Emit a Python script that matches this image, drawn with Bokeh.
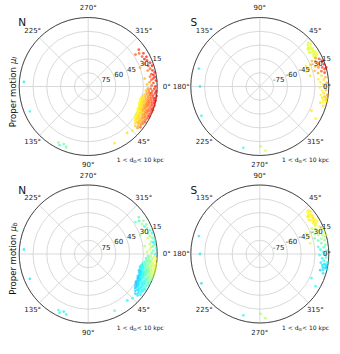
import math
from bokeh.plotting import figure
from bokeh.models import Range1d, ColumnDataSource, LinearColorMapper
from bokeh.transform import transform
from bokeh.embed import file_html
from bokeh.resources import INLINE
from bokeh.core.properties import value

# ---------------- data (l in deg, b in deg, colour values 0..1) ----------------
# Northern sample: thin arm above 0 deg
N_arm_l = [-36, -34, -33, -31, -29, -27, -26, -24, -22, -21, -20, -19, -18, -16, -15, -14,
           -12, -11, -10, -9, -8, -8, -7, -6, -5, -4, -3, -2, -1, 0]
N_arm_b = [22, 28, 24, 20, 23, 19, 22, 20, 24, 18, 30, 21, 17, 20, 23, 18,
           16, 20, 18, 22, 17, 28, 19, 21, 16, 23, 19, 26, 21, 17]
N_arm_mul = [.84, .80, .80, .86, .82, .86, .88, .83, .78, .87, .72, .84, .88, .80, .76, .85,
             .87, .82, .86, .78, .86, .70, .84, .80, .88, .74, .83, .70, .80, .86]
N_arm_mub = [.46, .45, .40, .50, .52, .48, .38, .50, .55, .44, .50, .47, .40, .53, .58, .45,
             .40, .50, .36, .55, .42, .55, .45, .50, .40, .60, .45, .55, .48, .40]

# Northern sample: dense clump between 0 and 45 deg
N_blob_l = [2, 2, 2,
            4, 4, 4, 4,
            6, 6, 6, 6,
            8, 8, 8, 8, 8,
            10, 10, 10, 10, 10, 10,
            12, 12, 12, 12, 12, 12, 12,
            14, 14, 14, 14, 14, 14, 14,
            16, 16, 16, 16, 16, 16, 16,
            18, 18, 18, 18, 18, 18, 18, 18,
            20, 20, 20, 20, 20, 20, 20, 20,
            22, 22, 22, 22, 22, 22, 22,
            24, 24, 24, 24, 24, 24, 24,
            26, 26, 26, 26, 26, 26, 26,
            28, 28, 28, 28, 28, 28,
            30, 30, 30, 30, 30, 30,
            32, 32, 32, 32, 32, 32,
            34, 34, 34, 34, 34,
            36, 36, 36, 36,
            38, 38, 38,
            40, 40]
N_blob_b = [18, 22, 25,
            16, 20, 24, 27,
            17, 21, 23, 26,
            15, 19, 22, 25, 28,
            16, 18, 21, 24, 27, 30,
            15, 17, 20, 23, 26, 29, 31,
            16, 19, 22, 24, 27, 29, 32,
            15, 18, 21, 23, 25, 28, 31,
            16, 19, 22, 24, 26, 28, 30, 32,
            15, 17, 20, 23, 25, 27, 29, 31,
            16, 19, 21, 24, 26, 28, 30,
            17, 20, 22, 25, 27, 29, 31,
            16, 18, 21, 23, 26, 28, 30,
            17, 20, 22, 24, 27, 29,
            18, 21, 23, 26, 28, 30,
            17, 19, 22, 25, 27, 29,
            18, 20, 23, 26, 28,
            19, 22, 24, 27,
            18, 21, 25,
            20, 23]
N_blob_mul = [.86, .80, .74,
              .88, .82, .76, .70,
              .86, .84, .78, .72,
              .88, .85, .80, .74, .68,
              .87, .84, .82, .76, .70, .66,
              .86, .85, .80, .78, .72, .66, .64,
              .88, .82, .80, .74, .70, .65, .63,
              .85, .84, .78, .76, .72, .68, .64,
              .86, .80, .79, .75, .70, .67, .64, .62,
              .84, .86, .78, .76, .73, .68, .65, .63,
              .85, .80, .77, .74, .70, .66, .64,
              .84, .78, .76, .72, .68, .65, .63,
              .86, .80, .75, .73, .68, .64, .62,
              .82, .78, .72, .70, .66, .64,
              .80, .74, .70, .67, .65, .63,
              .82, .76, .72, .68, .65, .63,
              .78, .74, .70, .66, .64,
              .76, .72, .68, .65,
              .80, .70, .66,
              .74, .68]
N_blob_mub = [.58, .52, .46,
              .60, .55, .48, .44,
              .62, .56, .50, .45,
              .60, .58, .52, .47, .42,
              .62, .57, .55, .49, .44, .40,
              .58, .60, .54, .50, .46, .40, .37,
              .60, .55, .52, .47, .42, .38, .35,
              .56, .58, .50, .48, .45, .40, .36,
              .55, .52, .50, .46, .42, .38, .35, .33,
              .52, .54, .48, .46, .43, .39, .36, .34,
              .50, .48, .46, .42, .40, .36, .34,
              .48, .46, .44, .40, .38, .35, .33,
              .46, .44, .42, .40, .37, .34, .32,
              .44, .42, .40, .38, .35, .33,
              .42, .40, .38, .36, .34, .32,
              .40, .38, .37, .35, .33, .31,
              .38, .37, .35, .34, .32,
              .37, .35, .34, .32,
              .36, .34, .33,
              .35, .33]

# Northern sample: isolated stars
N_out_l = [-176, 157, 110, 113, 116, 118, 65, 45, 50]
N_out_b = [20, 21, 20, 22, 19, 21, 22, 22, 24]
N_out_mul = [.35, .38, .45, .48, .42, .50, .65, .64, .66]
N_out_mub = [.36, .34, .40, .36, .38, .42, .45, .40, .38]

# Southern sample
S_top_l = [42, 41, 40, 39, 38, 38, 37, 36, 36, 35, 34, 34, 33, 32, 31, 30, 30, 29, 28]
S_top_b = [-19, -21, -18, -22, -20, -24, -23, -19, -21, -25, -24, -20, -22, -19, -21, -18, -23, -20, -22]
S_top_mul = [.58, .60, .59, .58, .61, .60, .58, .60, .59, .62, .58, .60, .61, .59, .58, .62, .60, .59, .61]
S_top_mub = [.64, .62, .65, .63, .64, .66, .62, .65, .63, .64, .62, .66, .64, .63, .65, .62, .64, .63, .60]

S_mid_l = [27, 26, 25, 24, 23, 22, 21, 20, 19, 18, 17, 16, 15, 14, 13, 12, 24, 18, 12, 20, 22, 16]
S_mid_b = [-22, -27, -19, -24, -30, -17, -21, -26, -16, -23, -19, -28, -17, -21, -25, -18, -35, -37, -34, -33, -16, -15]
S_mid_mul = [.74, .70, .80, .76, .68, .86, .78, .72, .88, .76, .82, .70, .86, .80, .72, .84, .64, .64, .66, .65, .86, .88]
S_mid_mub = [.60, .56, .62, .55, .52, .60, .56, .50, .58, .52, .55, .48, .56, .50, .46, .52, .62, .60, .58, .60, .58, .56]

S_low_l = [10, 8, 7, 6, 4, 3, 2, 0, -1, -3, -4, -6, -7, -8, -9, -10, -11, -12, -13, -14, -15, -17, -10, -12, -9]
S_low_b = [-22, -18, -26, -20, -24, -17, -21, -19, -25, -18, -22, -20, -16, -23, -18, -21, -17, -20, -15, -19, -22, -18, -16, -17, -19]
S_low_mul = [.66, .70, .64, .66, .64, .72, .65, .68, .63, .70, .64, .66, .74, .63, .67, .65, .68, .64, .70, .63, .65, .66, .67, .64, .66]
S_low_mub = [.48, .46, .42, .44, .40, .46, .42, .40, .38, .42, .37, .38, .40, .35, .36, .34, .36, .33, .38, .34, .33, .35, .34, .33, .36]

S_out_l = [163.6, 180, 206.7, 270.7, 275, 255, -30, -25]
S_out_b = [-21, -25, -19, -25, -20, -21, -20, -28]
S_out_mul = [.36, .35, .38, .55, .58, .40, .64, .66]
S_out_mub = [.36, .35, .34, .52, .55, .38, .40, .38]

# ticks and labels
RING_B = [75, 60, 45, 30, 15]
N_RING_LABELS = ["75", "60", "45", "30", "15"]
S_RING_LABELS = ["-75", "-60", "-45", "-30", "-15"]
SPOKES = [0, 45, 90, 135, 180, 225, 270, 315]
N_ANGLES = [0, 45, 90, 135, 225, 270, 315]
N_ANGLE_LABELS = ["0°", "45°", "90°", "135°", "225°", "270°", "315°"]
S_ANGLES = [0, 45, 90, 135, 180, 225, 270, 315]
S_ANGLE_LABELS = ["0°", "45°", "90°", "135°", "180°", "225°", "270°", "315°"]
HEMI_LABELS = ["N", "S"]
ROW_LABELS = ["l", "b"]
DIST_MAIN = "1 < d"
DIST_SUB = "⊙"
DIST_TAIL = " < 10 kpc"

# ---------------- layout ----------------
W, H = 332, 346
CX = [87.7, 259.3]
CY = [86.0, 253.5]
R = 69.0
K = R / 75.0
FONT = value("DejaVu Sans")
GRID = "#cfcfcf"
TICK_PX = 7.0
ADV = {"-": 0.361, "°": 0.5}


def est_width(s, px):
    return sum(ADV.get(ch, 0.636) for ch in s) * px


def jet(x):
    r = min(1.0, max(0.0, 1.5 - abs(4 * x - 3)))
    g = min(1.0, max(0.0, 1.5 - abs(4 * x - 2)))
    b = min(1.0, max(0.0, 1.5 - abs(4 * x - 1)))
    return "#%02x%02x%02x" % (int(r * 255), int(g * 255), int(b * 255))


PALETTE = [jet(i / 255.0) for i in range(256)]
mapper = LinearColorMapper(palette=PALETTE, low=0.0, high=1.0)

p = figure(width=W, height=H, x_range=Range1d(0, W), y_range=Range1d(H, 0),
           x_axis_type=None, y_axis_type=None, toolbar_location=None, tools="",
           output_backend="svg", min_border=0, outline_line_color=None,
           background_fill_color="white", border_fill_color="white")
p.grid.visible = False


def proj(ls, bs, cx, cy, sgn):
    xs, ys = [], []
    for l, b in zip(ls, bs):
        r = (90.0 - abs(b)) * K
        a = math.radians(l)
        xs.append(cx + r * math.cos(a))
        ys.append(cy + sgn * r * math.sin(a))
    return xs, ys


def polar_pt(cx, cy, sgn, ang, r):
    a = math.radians(ang)
    return cx + r * math.cos(a), cy + sgn * r * math.sin(a)


for row in range(2):
    for col in range(2):
        cx, cy = CX[col], CY[row]
        sgn = 1 if col == 0 else -1
        # rings
        p.circle(x=[cx] * 5, y=[cy] * 5, radius=[(90 - bb) * K for bb in RING_B],
                 fill_color=None, line_color=GRID, line_width=0.8)
        # spokes
        x1, y1 = [], []
        for a in SPOKES:
            xx, yy = polar_pt(cx, cy, sgn, a, R)
            x1.append(xx)
            y1.append(yy)
        p.segment(x0=[cx] * len(SPOKES), y0=[cy] * len(SPOKES), x1=x1, y1=y1,
                  line_color=GRID, line_width=0.8)
        # outer circle
        p.circle(x=[cx], y=[cy], radius=[R], fill_color=None, line_color="#3a3a3a", line_width=0.9)

        # data
        if col == 0:
            groups = [(N_arm_l, N_arm_b, N_arm_mul, N_arm_mub),
                      (N_blob_l, N_blob_b, N_blob_mul, N_blob_mub),
                      (N_out_l, N_out_b, N_out_mul, N_out_mub)]
        else:
            groups = [(S_top_l, S_top_b, S_top_mul, S_top_mub),
                      (S_mid_l, S_mid_b, S_mid_mul, S_mid_mub),
                      (S_low_l, S_low_b, S_low_mul, S_low_mub),
                      (S_out_l, S_out_b, S_out_mul, S_out_mub)]
        for gl, gb, gmul, gmub in groups:
            xs, ys = proj(gl, gb, cx, cy, sgn)
            vals = gmul if row == 0 else gmub
            src = ColumnDataSource(dict(x=xs, y=ys, v=vals))
            p.scatter("x", "y", source=src, size=2.8, marker="circle",
                      fill_color=transform("v", mapper), line_color=None, fill_alpha=0.68)

        # radial tick labels
        labs = N_RING_LABELS if col == 0 else S_RING_LABELS
        lx, ly = [], []
        for bb, lab in zip(RING_B, labs):
            xx, yy = polar_pt(cx, cy, -1, 22.5, (90 - bb) * K)
            lx.append(min(xx + 0.5, W - 1.5 - est_width(lab, TICK_PX)))
            ly.append(yy + 1.0)
        p.text(x=lx, y=ly, text=labs, text_font=FONT, text_font_size="7px",
               text_align="left", text_baseline="bottom", text_color="#222222")

        # angular tick labels
        angs = N_ANGLES if col == 0 else S_ANGLES
        alabs = N_ANGLE_LABELS if col == 0 else S_ANGLE_LABELS
        ax, ay = [], []
        for a, lab in zip(angs, alabs):
            xx, yy = polar_pt(cx, cy, sgn, a, 78.5)
            xx = min(xx, W - 1.5 - est_width(lab, TICK_PX) / 2)
            yy = max(yy, 5.0)
            ax.append(xx)
            ay.append(yy)
        p.text(x=ax, y=ay, text=alabs, text_font=FONT, text_font_size="7px",
               text_align="center", text_baseline="middle", text_color="#222222")

        # hemisphere letter
        p.text(x=[cx - 66], y=[cy - 64.3], text=[HEMI_LABELS[col]], text_font=FONT,
               text_font_size="10.5px", text_align="center", text_baseline="middle",
               text_color="#111111")

        # distance label
        xr = min(cx + 77.5, W - 1.5)
        yd = cy + 73.3
        p.text(x=[xr], y=[yd], text=[DIST_TAIL], text_font=FONT, text_font_size="6px",
               text_align="right", text_baseline="middle", text_color="#111111")
        p.text(x=[xr - 29.0], y=[yd + 1.8], text=[DIST_SUB], text_font=FONT, text_font_size="4.5px",
               text_align="right", text_baseline="middle", text_color="#111111")
        p.text(x=[xr - 32.5], y=[yd], text=[DIST_MAIN], text_font=FONT, text_font_size="6px",
               text_align="right", text_baseline="middle", text_color="#111111")

    # y label for the row
    yb = CY[row] + 40.7
    p.text(x=[12.0], y=[yb], text=["Proper motion "], angle=math.pi / 2, text_font=FONT,
           text_font_size="8.5px", text_align="left", text_baseline="alphabetic",
           text_color="#111111")
    p.text(x=[12.0], y=[yb - 63.1], text=["μ"], angle=math.pi / 2, text_font=FONT,
           text_font_size="8.5px", text_font_style="italic", text_align="left",
           text_baseline="alphabetic", text_color="#111111")
    p.text(x=[13.8], y=[yb - 68.5], text=[ROW_LABELS[row]], angle=math.pi / 2, text_font=FONT,
           text_font_size="6px", text_font_style="italic", text_align="left",
           text_baseline="alphabetic", text_color="#111111")

open("out.html", "w").write(file_html(p, INLINE))
